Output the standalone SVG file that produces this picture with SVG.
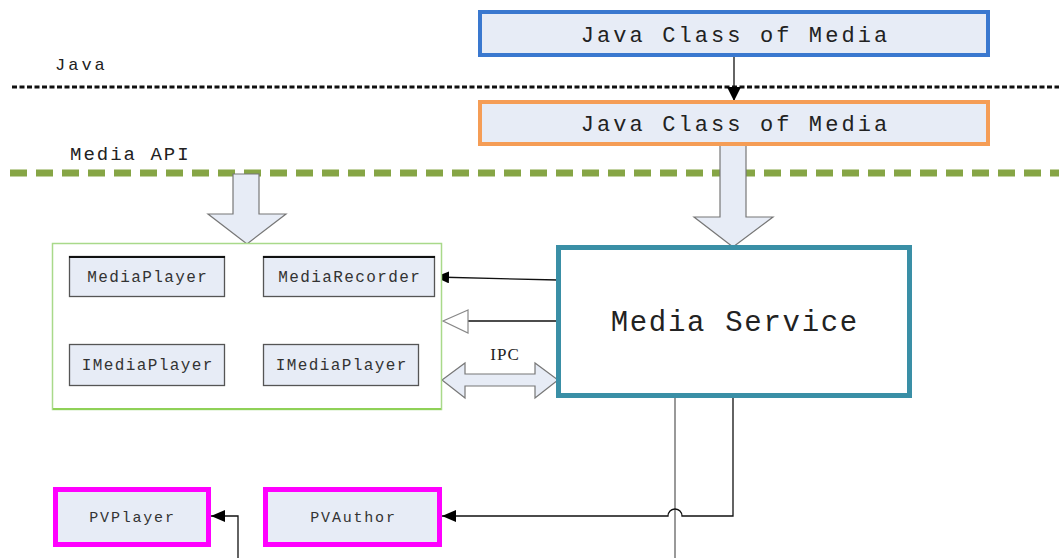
<svg xmlns="http://www.w3.org/2000/svg" width="1059" height="558" viewBox="0 0 1059 558">
<defs>
<style>
.t{font-family:"Liberation Mono","DejaVu Sans Mono",monospace;fill:#222;text-anchor:middle}
.s{font-family:"Liberation Mono",monospace;font-size:16px;letter-spacing:1.4px;fill:#333;text-anchor:middle}
.box{fill:#e7ecf6}
.inner{fill:#e7ecf6;stroke:#555;stroke-width:1.3}
.blk{fill:#e7ecf6;stroke:#777;stroke-width:1.2}
.ln{fill:none;stroke:#111;stroke-width:1.3}
</style>
<marker id="ah2" viewBox="0 0 14 12" refX="14" refY="6" markerWidth="14" markerHeight="12" markerUnits="userSpaceOnUse" orient="auto"><path d="M0,0 L14,6 L0,12 Z" fill="#000"/></marker>
<marker id="ah3" viewBox="0 0 14 14" refX="14" refY="7" markerWidth="14" markerHeight="14" markerUnits="userSpaceOnUse" orient="auto"><path d="M0,0 L14,7 L0,14 Z" fill="#000"/></marker>
</defs>
<rect width="1059" height="558" fill="#fff"/>

<g id="layers">
<line x1="12" y1="87" x2="1059" y2="87" stroke="#111" stroke-width="3" stroke-dasharray="5 2.5"/>
<text x="55" y="70" class="t" style="font-size:17px;letter-spacing:3px;text-anchor:start">Java</text>
<line x1="10" y1="173" x2="1059" y2="173" stroke="#86a545" stroke-width="7" stroke-dasharray="17 9"/>
<text x="70" y="160" class="t" style="font-size:19px;letter-spacing:2px;text-anchor:start">Media API</text>
</g>

<g id="connectors">
<line x1="734" y1="57" x2="734" y2="101" class="ln" stroke-width="1.5" marker-end="url(#ah3)"/>
<path d="M233,174 H259 V214 H286 L247,244 L208,214 H233 Z" class="blk"/>
<path d="M720,143 H746 V217 H773 L733,247 L694,217 H720 Z" class="blk"/>
<line x1="558" y1="280" x2="435" y2="277" class="ln" marker-end="url(#ah2)"/>
<line x1="558" y1="321" x2="468" y2="321" class="ln"/>
<path d="M468,310 L443,321 L468,333 Z" fill="#fff" stroke="#888" stroke-width="1.2"/>
<path d="M442,380 L465,363 V374 H535 V363 L558,380 L535,398 V386 H465 V398 Z" class="blk"/>
<text x="505" y="360" style="font-family:'Liberation Serif',serif;font-size:17px;letter-spacing:1px;fill:#222;text-anchor:middle">IPC</text>
<line x1="675" y1="396" x2="675" y2="558" stroke="#999" stroke-width="2"/>
<path d="M733,396 V516 H682 A7,7 0 0 0 668,516 H442" class="ln" stroke-width="1.6" marker-end="url(#ah2)"/>
<path d="M238,558 V516 H211" class="ln" stroke="#333" marker-end="url(#ah2)"/>
</g>

<g id="java-class-1">
<rect x="480" y="12" width="508" height="43" class="box" stroke="#3a78cf" stroke-width="4"/>
<text x="735.5" y="42" class="t" style="font-size:22px;letter-spacing:3.1px">Java Class of Media</text>
</g>

<g id="java-class-2">
<rect x="480" y="102" width="508" height="42" class="box" stroke="#f59d56" stroke-width="4"/>
<text x="735.5" y="131" class="t" style="font-size:22px;letter-spacing:3.1px">Java Class of Media</text>
</g>

<g id="media-api">
<rect x="52.5" y="243.5" width="389" height="166" fill="#fff" stroke="#a9d98a" stroke-width="1.5"/>
<line x1="53" y1="409" x2="441" y2="409" stroke="#8fd157" stroke-width="2"/>
</g>

<g id="mediaplayer">
<rect x="69.5" y="256.5" width="155" height="40" class="inner"/>
<line x1="69" y1="257" x2="225" y2="257" stroke="#111" stroke-width="2"/>
<text x="147.7" y="282" class="s">MediaPlayer</text>
</g>
<g id="mediarecorder">
<rect x="263.5" y="256.5" width="171" height="40" class="inner"/>
<line x1="263" y1="257" x2="435" y2="257" stroke="#111" stroke-width="2"/>
<text x="349.7" y="282" class="s">MediaRecorder</text>
</g>
<g id="imediaplayer-1">
<rect x="69.5" y="344.5" width="155" height="41" class="inner"/>
<text x="147.7" y="370" class="s">IMediaPlayer</text>
</g>
<g id="imediaplayer-2">
<rect x="263.5" y="344.5" width="155" height="41" class="inner"/>
<text x="341.7" y="370" class="s">IMediaPlayer</text>
</g>

<g id="media-service">
<rect x="558.5" y="247.5" width="351" height="148" fill="#fff" stroke="#3a8fa6" stroke-width="5"/>
<text x="734.8" y="331" class="t" style="font-size:29px;letter-spacing:1.7px">Media Service</text>
</g>

<g id="pvplayer">
<rect x="55.5" y="489.5" width="153" height="55" class="box" stroke="#ff00ff" stroke-width="5"/>
<text x="132.5" y="522" class="s" style="font-size:15px;letter-spacing:1.8px">PVPlayer</text>
</g>
<g id="pvauthor">
<rect x="265.5" y="489.5" width="174" height="55" class="box" stroke="#ff00ff" stroke-width="5"/>
<text x="353.5" y="522" class="s" style="font-size:15px;letter-spacing:1.8px">PVAuthor</text>
</g>
</svg>
